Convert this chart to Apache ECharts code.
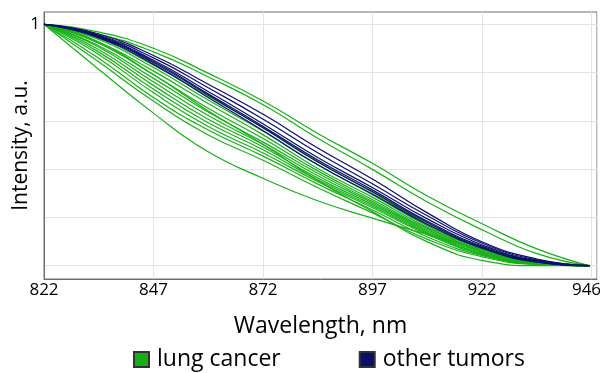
<!DOCTYPE html>
<html>
<head>
<meta charset="utf-8">
<script src="https://cdn.jsdelivr.net/npm/echarts@6/dist/echarts.min.js"></script>
<style>html,body{margin:0;padding:0;background:#fff}#c{width:600px;height:373px}</style>
</head>
<body>
<div id="c"></div>
<script>
// Wavelength sample points (nm)
var wavelengths = [822, 834, 847, 859, 872, 884, 897, 909, 922, 934, 946];
var xTickStart = 822;
var xTickStep = 24.88;
var xLastLabel = 946;
var yTicks = [0, 0.2, 0.4, 0.6, 0.8, 1];
var yLabelTicks = [1];

// lung cancer spectra (normalized intensity)
var lung1  = [1, 0.970, 0.900, 0.800, 0.680, 0.550, 0.420, 0.290, 0.170, 0.070, 0];
var lung2  = [1, 0.962, 0.885, 0.785, 0.665, 0.530, 0.395, 0.265, 0.145, 0.050, 0];
var lung3  = [1, 0.945, 0.830, 0.705, 0.570, 0.435, 0.300, 0.175, 0.072, 0.016, 0];
var lung4  = [1, 0.940, 0.820, 0.690, 0.555, 0.420, 0.290, 0.167, 0.068, 0.014, 0];
var lung5  = [1, 0.930, 0.805, 0.675, 0.540, 0.405, 0.280, 0.160, 0.064, 0.013, 0];
var lung6  = [1, 0.925, 0.790, 0.655, 0.525, 0.395, 0.270, 0.155, 0.060, 0.012, 0];
var lung7  = [1, 0.915, 0.775, 0.640, 0.510, 0.385, 0.263, 0.150, 0.057, 0.011, 0];
var lung8  = [1, 0.910, 0.760, 0.625, 0.500, 0.375, 0.257, 0.145, 0.054, 0.010, 0];
var lung9  = [1, 0.900, 0.745, 0.610, 0.490, 0.365, 0.250, 0.140, 0.050, 0.009, 0];
var lung10 = [1, 0.890, 0.730, 0.595, 0.478, 0.357, 0.243, 0.135, 0.047, 0.008, 0];
var lung11 = [1, 0.880, 0.715, 0.580, 0.465, 0.350, 0.237, 0.130, 0.044, 0.007, 0];
var lung12 = [1, 0.865, 0.695, 0.565, 0.452, 0.340, 0.228, 0.120, 0.040, 0.006, 0];
var lung13 = [1, 0.850, 0.680, 0.545, 0.435, 0.325, 0.215, 0.110, 0.035, 0.005, 0];
var lung14 = [1, 0.820, 0.630, 0.475, 0.360, 0.270, 0.195, 0.130, 0.068, 0.022, 0];
var lung15 = [1, 0.930, 0.790, 0.645, 0.500, 0.355, 0.220, 0.100, 0.020, 0.000, 0];

// other tumors spectra
var other1 = [1, 0.962, 0.870, 0.755, 0.625, 0.490, 0.355, 0.220, 0.095, 0.028, 0];
var other2 = [1, 0.958, 0.860, 0.740, 0.605, 0.470, 0.335, 0.208, 0.090, 0.024, 0];
var other3 = [1, 0.955, 0.850, 0.725, 0.585, 0.450, 0.320, 0.195, 0.083, 0.020, 0];
var other4 = [1, 0.952, 0.845, 0.715, 0.575, 0.440, 0.310, 0.185, 0.078, 0.018, 0];
var other5 = [1, 0.950, 0.840, 0.710, 0.568, 0.432, 0.303, 0.180, 0.074, 0.016, 0];
var other6 = [1, 0.947, 0.833, 0.700, 0.557, 0.420, 0.293, 0.172, 0.070, 0.015, 0];

var lungSeries = [lung1, lung2, lung3, lung4, lung5, lung6, lung7, lung8, lung9, lung10, lung11, lung12, lung13, lung14, lung15];
var otherSeries = [other1, other2, other3, other4, other5, other6];

var GREEN = '#16b016';
var NAVY = '#0b0f6a';
var FONT = 'Open Sans';

function toPairs(vals) {
  return vals.map(function (v, i) { return [wavelengths[i] - xTickStart, v]; });
}

var series = [];
lungSeries.forEach(function (s) {
  series.push({ name: 'lung cancer', type: 'line', data: toPairs(s), smooth: true, showSymbol: false,
    lineStyle: { color: GREEN, width: 1.2 }, itemStyle: { color: GREEN, borderColor: '#333', borderWidth: 1 }, silent: true });
});
otherSeries.forEach(function (s) {
  series.push({ name: 'other tumors', type: 'line', data: toPairs(s), smooth: true, showSymbol: false,
    lineStyle: { color: NAVY, width: 1.2 }, itemStyle: { color: NAVY, borderColor: '#333', borderWidth: 1 }, silent: true });
});

var chart = echarts.init(document.getElementById('c'), null, { renderer: 'canvas' });
chart.setOption({
  animation: false,
  grid: { left: 44, right: 3, top: 12, bottom: 94, containLabel: false, outerBoundsMode: 'none',
    show: true, borderColor: '#6e6e6e', borderWidth: 1 },
  legend: {
    data: ['lung cancer', 'other tumors'],
    top: 343, left: 128, icon: 'rect', itemWidth: 15, itemHeight: 15, itemGap: 78,
    textStyle: { fontFamily: FONT, fontSize: 23, color: '#000', padding: [0, 0, 0, 3] }
  },
  xAxis: {
    type: 'value', min: 0, max: 125.65, interval: xTickStep,
    name: 'Wavelength, nm', nameLocation: 'middle', nameGap: 36, nameMoveOverlap: false,
    nameTextStyle: { fontFamily: FONT, fontSize: 23, color: '#000' },
    axisLine: { onZero: false, lineStyle: { color: '#6e6e6e', width: 1 } },
    axisTick: { show: false },
    axisLabel: { fontFamily: FONT, fontSize: 17, color: '#000', margin: 3, showMaxLabel: false,
      formatter: function (v) {
        var t = Math.round(v + xTickStart);
        return t === xLastLabel ? '{r|' + t + '}' : String(t);
      },
      rich: { r: { fontFamily: FONT, fontSize: 17, color: '#000', padding: [0, 10, 0, 0] } } },
    splitLine: { show: true, lineStyle: { color: '#e3e3e3', width: 1 } }
  },
  yAxis: {
    type: 'value', min: -0.055, max: 1.051,
    name: 'Intensity, a.u.', nameLocation: 'middle', nameGap: 12, nameMoveOverlap: false,
    nameTextStyle: { fontFamily: FONT, fontSize: 21, color: '#000' },
    axisLine: { show: true, onZero: false, lineStyle: { color: '#6e6e6e', width: 1 } },
    axisTick: { show: false, customValues: yTicks },
    axisLabel: { fontFamily: FONT, fontSize: 17, color: '#000', margin: 4, customValues: yLabelTicks,
      formatter: function (v) { return String(v); } },
    splitLine: { show: true, lineStyle: { color: '#e3e3e3', width: 1 } }
  },
  series: series
});
</script>
</body>
</html>
